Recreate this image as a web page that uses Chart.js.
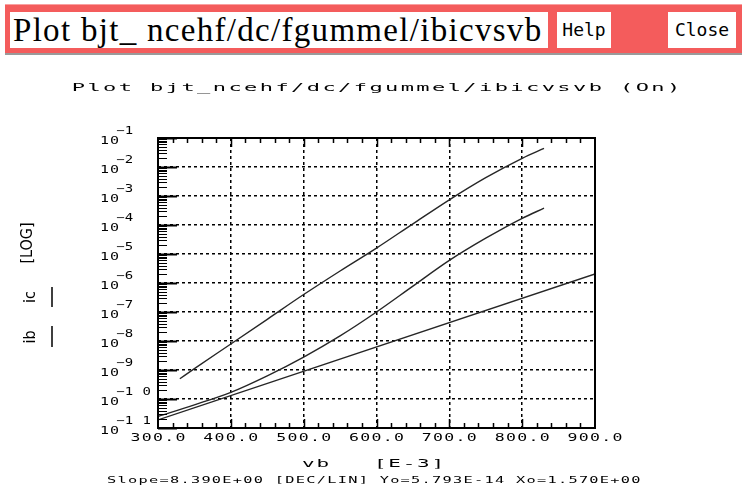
<!DOCTYPE html>
<html>
<head>
<meta charset="utf-8">
<script src="https://cdn.jsdelivr.net/npm/chart.js@4.4.1/dist/chart.umd.min.js"></script>
<style>
  html, body { margin: 0; padding: 0; background: #fff; }
  body { width: 742px; height: 487px; position: relative; overflow: hidden; }
  #bar { position: absolute; left: 5px; top: 4px; width: 737px; height: 48px;
         background: #f45c5c; box-shadow: 0 2px 0 #9a9a9a; border-top: 1px solid #f9a0a0; }
  .box { position: absolute; top: 7px; height: 36px; background: #fff; }
  #name { left: 5px; width: 538px; font-family: "Liberation Serif", "Times New Roman", serif; font-size: 33px;
          letter-spacing: 1.3px; line-height: 36px;
          padding-left: 3px; box-sizing: border-box; white-space: nowrap; overflow: hidden; }
  #help { left: 552px; width: 54px; font: 18px "DejaVu Sans Mono", monospace; line-height: 36px; text-align: center; }
  #close { left: 663px; width: 68px; font: 18px "DejaVu Sans Mono", monospace; line-height: 36px; text-align: center; }
  canvas { position: absolute; left: 0; top: 0; }
</style>
</head>
<body>
<canvas id="c" width="742" height="487"></canvas>
<div id="bar">
  <div class="box" id="name">Plot bjt_ ncehf/dc/fgummel/ibicvsvb</div>
  <div class="box" id="help">Help</div>
  <div class="box" id="close">Close</div>
</div>
<script>
// Gummel plot: collector and base current versus base voltage (mV)
const vbIc = [330, 350, 400, 450, 500, 550, 600, 650, 700, 750, 800, 830];
const ic   = [5.0e-10, 1.12e-9, 7.9e-9, 5.6e-8, 4.0e-7, 2.6e-6, 1.6e-5, 1.1e-4, 7.4e-4, 4.3e-3, 2.0e-2, 4.4e-2];

const vbIb = [300, 350, 400, 450, 500, 550, 600, 650, 700, 750, 800, 830];
const ib   = [2.5e-11, 6.3e-11, 1.7e-10, 6.3e-10, 2.8e-9, 1.5e-8, 1.0e-7, 7.8e-7, 6.0e-6, 3.5e-5, 1.7e-4, 3.8e-4];

// straight-line fit (Slope / Yo shown below the plot)
const vbFit = [300, 900];
const iFit  = [1.9e-11, 2.06e-6];

const xTickLabels = ['300.0', '400.0', '500.0', '600.0', '700.0', '800.0', '900.0'];
const yExponents  = [-1, -2, -3, -4, -5, -6, -7, -8, -9, -10, -11];

const titleText = 'Plot bjt_ncehf/dc/fgummel/ibicvsvb (On)';
const xTitle    = 'vb   [E-3]';
const fitText   = 'Slope=8.390E+00 [DEC/LIN] Yo=5.793E-14 Xo=1.570E+00';

const pts = (xs, ys) => xs.map((x, i) => ({ x: x, y: ys[i] }));
const isDecade = v => Math.abs(Math.log10(v) - Math.round(Math.log10(v))) < 1e-6;
const MONO = '"DejaVu Sans Mono", monospace';

// text stretched horizontally like the plotter font
function wideText(ctx, text, x, y, size, sx, spacing, align) {
  ctx.save();
  ctx.font = size + 'px ' + MONO;
  ctx.letterSpacing = spacing + 'px';
  const w = (ctx.measureText(text).width - spacing) * sx;
  let left = x;
  if (align === 'center') left = x - w / 2;
  else if (align === 'right') left = x - w;
  ctx.translate(left, y);
  ctx.scale(sx, 1);
  ctx.textAlign = 'left';
  ctx.textBaseline = 'middle';
  ctx.fillStyle = '#000';
  ctx.fillText(text, 0, 0);
  ctx.restore();
}

const frame = {
  id: 'frame',
  afterDraw(chart) {
    const ctx = chart.ctx;
    const xs = chart.scales.x, ys = chart.scales.y;
    const a = chart.chartArea;
    ctx.save();
    ctx.strokeStyle = '#000';

    // x ticks, top and bottom, every 20 mV
    ctx.lineWidth = 1.5;
    for (let v = 320; v < 900; v += 20) {
      const px = Math.round(xs.getPixelForValue(v)) + 0.5;
      const major = v % 100 === 0;
      ctx.beginPath();
      ctx.moveTo(px, a.top); ctx.lineTo(px, a.top + (major ? 9 : 5));
      ctx.moveTo(px, a.bottom); ctx.lineTo(px, a.bottom - (major ? 9 : 5));
      ctx.stroke();
    }

    // y ticks on the left: decades long, 2..9 short
    for (let e = -11; e <= -1; e++) {
      const py = Math.round(ys.getPixelForValue(Math.pow(10, e))) + 0.5;
      ctx.lineWidth = 2;
      ctx.beginPath(); ctx.moveTo(a.left, py); ctx.lineTo(a.left + 19, py); ctx.stroke();
      ctx.lineWidth = 1;
      if (e < -1) {
        for (let k = 2; k <= 9; k++) {
          const q = Math.round(ys.getPixelForValue(k * Math.pow(10, e))) + 0.5;
          ctx.beginPath(); ctx.moveTo(a.left, q); ctx.lineTo(a.left + 9, q); ctx.stroke();
        }
      }
    }

    // plot frame
    ctx.lineWidth = 2;
    ctx.strokeRect(a.left, a.top, a.right - a.left, a.bottom - a.top);

    // x tick labels
    xTickLabels.forEach(t => {
      wideText(ctx, t, xs.getPixelForValue(parseFloat(t)), a.bottom + 10, 10, 1.65, 0.8, 'center');
    });

    // y tick labels 10^n
    yExponents.forEach(e => {
      const py = ys.getPixelForValue(Math.pow(10, e));
      wideText(ctx, '10', 100, py + 3, 10, 1.5, 0.6, 'left');
      wideText(ctx, '\u2212' + String(-e).split('').join(' '), 116, py - 7, 10, 1.4, 0.3, 'left');
    });

    // titles
    wideText(ctx, titleText, 376, 88, 10, 2.2, 1.1, 'center');
    wideText(ctx, xTitle, 302, 464, 11, 1.9, 0.95, 'left');
    wideText(ctx, fitText, 107, 481, 9, 1.7, 0.75, 'left');

    // rotated y-axis title with line keys
    ctx.save();
    ctx.translate(31, 0);
    ctx.rotate(-Math.PI / 2);
    ctx.font = '16px "DejaVu Sans Condensed", "DejaVu Sans", sans-serif';
    ctx.fillStyle = '#000';
    ctx.textBaseline = 'middle';
    ctx.textAlign = 'center';
    ctx.fillText('ib', -337, 0);
    ctx.fillText('ic', -297, 0);
    ctx.fillText('[LOG]', -243, -3);
    ctx.restore();
    ctx.lineWidth = 1.5;
    ctx.beginPath();
    ctx.moveTo(52, 287); ctx.lineTo(52, 307);
    ctx.moveTo(52, 326); ctx.lineTo(52, 347);
    ctx.stroke();
    ctx.restore();
  }
};

const lineStyle = {
  borderColor: '#262626', borderWidth: 1.4, pointRadius: 0,
  fill: false, cubicInterpolationMode: 'monotone'
};

new Chart(document.getElementById('c'), {
  type: 'line',
  data: {
    datasets: [
      Object.assign({ label: 'ic', data: pts(vbIc, ic) }, lineStyle),
      Object.assign({ label: 'ib', data: pts(vbIb, ib) }, lineStyle),
      Object.assign({ label: 'fit', data: pts(vbFit, iFit) }, lineStyle, { cubicInterpolationMode: 'default', tension: 0 })
    ]
  },
  options: {
    responsive: false,
    animation: false,
    layout: { padding: { left: 158, right: 147, top: 138, bottom: 59 } },
    plugins: { legend: { display: false }, title: { display: false }, tooltip: { enabled: false } },
    scales: {
      x: {
        type: 'linear', min: 300, max: 900,
        ticks: { display: false, stepSize: 100 },
        border: { display: false, dash: [3, 3] },
        grid: {
          drawTicks: false, lineWidth: 1.5,
          color: c => (c.tick && c.tick.value > 300 && c.tick.value < 900) ? '#000' : 'rgba(0,0,0,0)'
        }
      },
      y: {
        type: 'logarithmic', min: 1e-11, max: 1e-1,
        ticks: { display: false },
        border: { display: false, dash: [3, 3] },
        grid: {
          drawTicks: false, lineWidth: 1.5,
          color: c => (c.tick && isDecade(c.tick.value) && c.tick.value > 1.5e-11 && c.tick.value < 0.09) ? '#000' : 'rgba(0,0,0,0)'
        }
      }
    }
  },
  plugins: [frame]
});
</script>
</body>
</html>
